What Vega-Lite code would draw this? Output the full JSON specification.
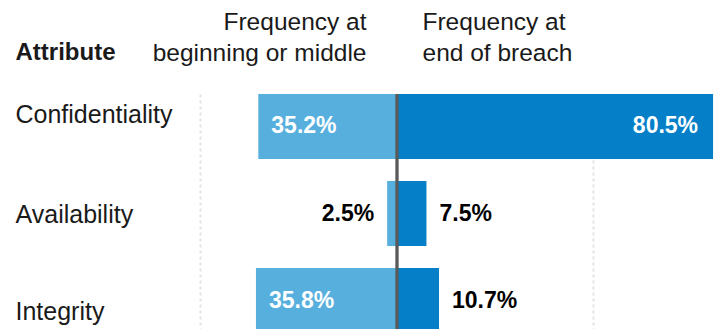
{
  "$schema": "https://vega.github.io/schema/vega-lite/v6.json",
  "autosize": {"type": "pad"},
  "padding": {"left": 15, "top": 9, "right": 0, "bottom": 0},
  "spacing": 0,
  "bounds": "flush",
  "background": "white",
  "config": {
    "view": {"stroke": null},
    "font": "Liberation Sans",
    "axis": {"labelFont": "Liberation Sans", "titleFont": "Liberation Sans"}
  },
  "data": {
    "values": [
      {"attribute": "Confidentiality", "stage": "begin", "value": 35.2},
      {"attribute": "Availability", "stage": "begin", "value": 2.5},
      {"attribute": "Integrity", "stage": "begin", "value": 35.8},
      {"attribute": "Confidentiality", "stage": "end", "value": 80.5},
      {"attribute": "Availability", "stage": "end", "value": 7.5},
      {"attribute": "Integrity", "stage": "end", "value": 10.7}
    ]
  },
  "resolve": {"scale": {"y": "shared"}},
  "hconcat": [
    {
      "width": 197,
      "height": 239,
      "transform": [{"filter": "datum.stage === 'begin'"}],
      "layer": [
        {
          "mark": {"type": "bar", "color": "#57AFDD"},
          "encoding": {
            "y": {
              "field": "attribute",
              "type": "nominal",
              "sort": ["Confidentiality", "Availability", "Integrity"],
              "scale": {"paddingInner": 0.2529, "paddingOuter": 0},
              "axis": {
                "orient": "left",
                "domain": false,
                "ticks": false,
                "labelAlign": "left",
                "labelBaseline": "alphabetic",
                "labelPadding": 185,
                "labelFontSize": 25,
                "labelColor": "#1a1a1a",
                "labelOffset": {
                  "condition": [
                    {"test": "datum.value === 'Confidentiality'", "value": -3.5},
                    {"test": "datum.value === 'Integrity'", "value": 19.5}
                  ],
                  "value": 9
                },
                "title": "Attribute",
                "titleAngle": 0,
                "titleAlign": "left",
                "titleBaseline": "alphabetic",
                "titleX": -185,
                "titleY": -34.5,
                "titleFontSize": 24,
                "titleFontWeight": "bold",
                "titleColor": "#1a1a1a"
              }
            },
            "x": {
              "field": "value",
              "type": "quantitative",
              "scale": {"domain": [0, 50], "reverse": true, "nice": false},
              "axis": {
                "orient": "top",
                "values": [50],
                "labels": false,
                "ticks": false,
                "domain": false,
                "grid": true,
                "gridColor": "#e4e4e4",
                "gridDash": [3, 3],
                "gridWidth": 2,
                "title": ["Frequency at", "beginning or middle"],
                "titleFontSize": 24.5,
                "titleFontWeight": "normal",
                "titleColor": "#1a1a1a",
                "titleAlign": "right",
                "titleBaseline": "alphabetic",
                "titleLineHeight": 30.5,
                "titleX": 166,
                "titleY": -64.5
              }
            }
          }
        },
        {
          "transform": [{"filter": "datum.value > 20"}],
          "mark": {"type": "text", "align": "left", "baseline": "middle", "dx": 13, "fontSize": 23, "fontWeight": "bold", "color": "white", "text": {"expr": "format(datum.value, '.1f') + '%'"}},
          "encoding": {
            "y": {"field": "attribute", "type": "nominal", "sort": ["Confidentiality", "Availability", "Integrity"]},
            "x": {"field": "value", "type": "quantitative"}
          }
        },
        {
          "transform": [{"filter": "datum.value <= 20"}],
          "mark": {"type": "text", "align": "right", "baseline": "middle", "dx": -13, "fontSize": 23, "fontWeight": "bold", "color": "black", "text": {"expr": "format(datum.value, '.1f') + '%'"}},
          "encoding": {
            "y": {"field": "attribute", "type": "nominal", "sort": ["Confidentiality", "Availability", "Integrity"]},
            "x": {"field": "value", "type": "quantitative"}
          }
        }
      ]
    },
    {
      "width": 320,
      "height": 239,
      "transform": [{"filter": "datum.stage === 'end'"}],
      "layer": [
        {
          "mark": {"type": "bar", "color": "#0580C8"},
          "encoding": {
            "y": {
              "field": "attribute",
              "type": "nominal",
              "sort": ["Confidentiality", "Availability", "Integrity"],
              "scale": {"paddingInner": 0.2529, "paddingOuter": 0},
              "axis": null
            },
            "x": {
              "field": "value",
              "type": "quantitative",
              "scale": {"domain": [0, 81.5], "nice": false},
              "axis": {
                "orient": "top",
                "values": [50],
                "labels": false,
                "ticks": false,
                "domain": false,
                "grid": true,
                "gridColor": "#e4e4e4",
                "gridDash": [3, 3],
                "gridWidth": 2,
                "title": ["Frequency at", "end of breach"],
                "titleFontSize": 24.5,
                "titleFontWeight": "normal",
                "titleColor": "#1a1a1a",
                "titleAlign": "left",
                "titleBaseline": "alphabetic",
                "titleLineHeight": 30.5,
                "titleX": 25,
                "titleY": -64.5
              }
            }
          }
        },
        {
          "transform": [{"filter": "datum.value > 20"}],
          "mark": {"type": "text", "align": "right", "baseline": "middle", "dx": -15, "fontSize": 23, "fontWeight": "bold", "color": "white", "text": {"expr": "format(datum.value, '.1f') + '%'"}},
          "encoding": {
            "y": {"field": "attribute", "type": "nominal", "sort": ["Confidentiality", "Availability", "Integrity"]},
            "x": {"field": "value", "type": "quantitative"}
          }
        },
        {
          "transform": [{"filter": "datum.value <= 20"}],
          "mark": {"type": "text", "align": "left", "baseline": "middle", "dx": 13, "fontSize": 23, "fontWeight": "bold", "color": "black", "text": {"expr": "format(datum.value, '.1f') + '%'"}},
          "encoding": {
            "y": {"field": "attribute", "type": "nominal", "sort": ["Confidentiality", "Availability", "Integrity"]},
            "x": {"field": "value", "type": "quantitative"}
          }
        },
        {
          "mark": {"type": "rule", "color": "#5a5a5a", "strokeWidth": 2.6},
          "encoding": {"x": {"datum": 0}}
        }
      ]
    }
  ]
}
